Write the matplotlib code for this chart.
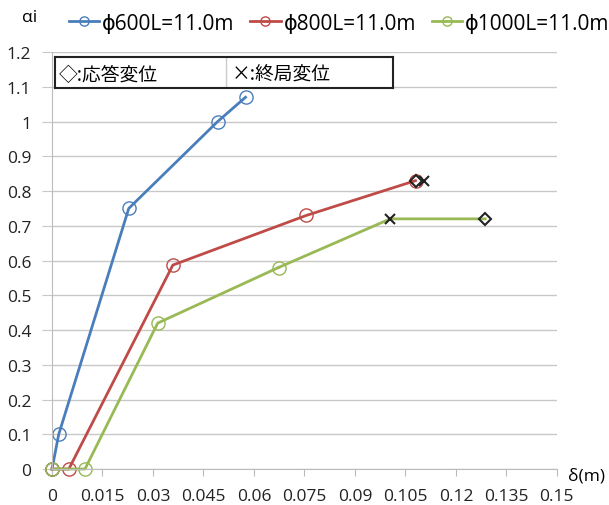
import numpy as np
import matplotlib.pyplot as plt

plt.rcParams['font.family'] = ['Open Sans', 'Noto Sans CJK JP', 'DejaVu Sans']

# load-displacement curves (delta [m], alpha_i)
d600 = [0.0, 0.002, 0.0228, 0.0492, 0.0575]
a600 = [0.0, 0.10, 0.75, 1.00, 1.07]
d800 = [0.0, 0.005, 0.0359, 0.0756, 0.108]
a800 = [0.0, 0.0, 0.587, 0.73, 0.83]
d1000 = [0.0, 0.0098, 0.0314, 0.0673]
a1000 = [0.0, 0.0, 0.42, 0.58]

# response (diamond) and ultimate (x) displacement
resp_d = [0.108, 0.1287]
resp_a = [0.83, 0.72]
ult_d = [0.1105, 0.1005]
ult_a = [0.83, 0.72]

c600 = '#4a7ebb'
c800 = '#be4b48'
c1000 = '#98b954'

fig = plt.figure(figsize=(6.09, 5.06), dpi=100)
ax = fig.add_axes([0.0854, 0.0711, 0.829, 0.824])

ax.plot(d600, a600, '-', color=c600, lw=2, marker='o', ms=9.5, mfc='none', mec=c600,
        label='ϕ600L=11.0m')
ax.plot(d800, a800, '-', color=c800, lw=2, marker='o', ms=9.5, mfc='none', mec=c800,
        label='ϕ800L=11.0m')
ax.plot(d1000, a1000, '-', color=c1000, lw=2, marker='o', ms=9.5, mfc='none', mec=c1000,
        label='ϕ1000L=11.0m')
# green curve carries on flat through the ultimate and response points
ax.plot([d1000[-1], ult_d[1], resp_d[1]], [a1000[-1], ult_a[1], resp_a[1]],
        '-', color=c1000, lw=2)

ax.plot(resp_d, resp_a, 'D', ms=6, mfc='none', mec='#222222', mew=1.5)
ax.plot(ult_d, ult_a, 'x', ms=7, color='#222222', mew=1.5)

ax.set_xlim(0, 0.15)
ax.set_ylim(0, 1.2)
xt = np.arange(0, 0.151, 0.015)
ax.set_xticks(xt)
ax.set_xticklabels(['0', '0.015', '0.03', '0.045', '0.06', '0.075', '0.09',
                    '0.105', '0.12', '0.135', '0.15'])
yt = np.arange(0, 1.21, 0.1)
ax.set_yticks(yt)
ax.set_yticklabels(['0', '0.1', '0.2', '0.3', '0.4', '0.5', '0.6', '0.7', '0.8',
                    '0.9', '1', '1.1', '1.2'])
ax.tick_params(axis='both', labelsize=12.5, colors='#222222')
ax.tick_params(axis='x', direction='out', length=5, color='#bbbbbb', pad=9)
ax.tick_params(axis='y', direction='out', length=7, color='#c8c8c8', pad=8)
ax.grid(axis='y', color='#c8c8c8', lw=1)
ax.set_axisbelow(True)
for s in ['top', 'right']:
    ax.spines[s].set_visible(False)
for s in ['left', 'bottom']:
    ax.spines[s].set_color('#bbbbbb')
for ln in ax.lines:
    ln.set_clip_on(False)

fig.text(0.049, 0.964, 'αi', fontsize=12.5, ha='center', va='center')
fig.text(0.933, 0.059, 'δ(m)', fontsize=12.5, ha='left', va='center')

leg = fig.legend(loc='center', bbox_to_anchor=(0.557, 0.952), ncol=3, frameon=False,
                 fontsize=15, handlelength=1.45, handletextpad=0.15, columnspacing=0.75,
                 borderpad=0, borderaxespad=0, markerscale=0.7)

# note box for the marker symbols
box = fig.add_axes([0.0903, 0.824, 0.555, 0.0613])
box.set_xticks([])
box.set_yticks([])
for s in box.spines.values():
    s.set_linewidth(1.5)
    s.set_color('#222222')
box.axvline(0.506, color='#cccccc', lw=1)
box.text(0.012, 0.45, '◇:応答変位', fontsize=13.5, va='center',
         family=['Noto Sans CJK JP', 'DejaVu Sans'])
box.text(0.524, 0.45, '×:終局変位', fontsize=13.5, va='center',
         family=['Noto Sans CJK JP', 'DejaVu Sans'])

fig.savefig('out.png', dpi=100)
